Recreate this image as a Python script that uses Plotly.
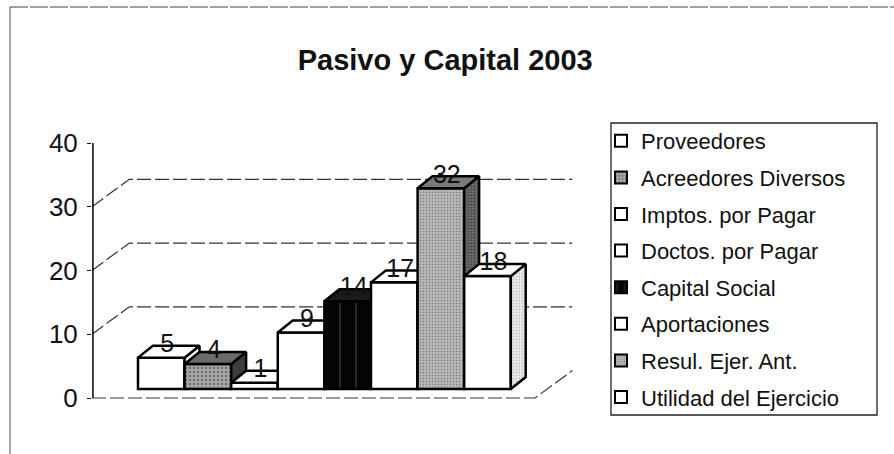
import plotly.graph_objects as go

# ---------------- data ----------------
categories = ["Proveedores", "Acreedores Diversos", "Imptos. por Pagar",
              "Doctos. por Pagar", "Capital Social", "Aportaciones",
              "Resul. Ejer. Ant.", "Utilidad del Ejercicio"]
values = [5, 4, 1, 9, 14, 17, 32, 18]
value_labels = ["5", "4", "1", "9", "14", "17", "32", "18"]
y_tick_values = [0, 10, 20, 30, 40]
y_tick_labels = ["0", "10", "20", "30", "40"]
grid_values = [10, 20, 30]
chart_title = "Pasivo y Capital 2003"

# ---------------- geometry / style ----------------
FONT = "Liberation Sans, Arial, sans-serif"
W, H = 894, 454
ML, MR, MT, MB = 92, 314, 110, 50
PX_X = 46.6          # pixels per bar slot
PX_Y = 6.375         # pixels per value unit
Y0_PX = 398          # pixel row of value 0 on the front axis
X0 = -1.487          # x of the value axis (plot left edge)
X_RANGE = [X0, X0 + (W - ML - MR) / PX_X]
Y_BOT = (Y0_PX - (H - MB)) / PX_Y
Y_RANGE = [Y_BOT, Y_BOT + (H - MT - MB) / PX_Y]

WDX, WDY = 0.80, 4.3       # wall depth offset
FLOOR_END = 8.02
BDX, BDY = 0.32, 1.88      # bar depth offset
BASE = 1.41
SCALE = 0.984

white = dict(front="white", pattern=None, top="white", side="white", sidepat=None)
styles = [
    white,
    dict(front="#8c8c8c",
         pattern=dict(shape=".", fgcolor="#3a3a3a", bgcolor="#a9a9a9", size=4, solidity=0.35),
         top="#6a6a6a", side="#3c3c3c", sidepat=None),
    white,
    white,
    dict(front="black",
         pattern=dict(shape="|", fgcolor="#777777", bgcolor="#050505", size=16, solidity=0.08),
         top="#1a1a1a", side="#2a2a2a", sidepat=None),
    white,
    dict(front="#a5a5a5",
         pattern=dict(shape=".", fgcolor="#505050", bgcolor="#bdbdbd", size=3, solidity=0.35),
         top="#7a7a7a", side="#4a4a4a",
         sidepat=dict(shape=".", fgcolor="#1e1e1e", bgcolor="#6a6a6a", size=3, solidity=0.35)),
    dict(front="white", pattern=None, top="white", side="#dcdcdc",
         sidepat=dict(shape=".", fgcolor="#9a9a9a", bgcolor="#ececec", size=3, solidity=0.3)),
]

fig = go.Figure()

# ---- back wall gridlines, wall diagonals, floor ----
gx, gy = [], []
for v in grid_values:
    gx += [X0, X0 + WDX, FLOOR_END + WDX, None]
    gy += [v, v + WDY, v + WDY, None]
gx += [X0, FLOOR_END, FLOOR_END + WDX, None]
gy += [0, 0, WDY, None]
fig.add_trace(go.Scatter(x=gx, y=gy, mode="lines", showlegend=False, hoverinfo="skip",
                         line=dict(color="#333333", width=1.2, dash="14px,4px")))
# value axis line (front)
fig.add_trace(go.Scatter(x=[X0 + 0.02, X0 + 0.02], y=[y_tick_values[0], y_tick_values[-1]],
                         mode="lines", showlegend=False, hoverinfo="skip",
                         line=dict(color="#111111", width=1.6)))

# ---- 3D bars, each in its own overlay subplot (painter's order left->right) ----
for i, (cat, v, st) in enumerate(zip(categories, values, styles)):
    k = i + 2
    xa, ya = f"x{k}", f"y{k}"
    top = BASE + v * SCALE
    marker = dict(color=st["front"], line=dict(color="#000000", width=2.5))
    if st["pattern"]:
        marker["pattern"] = st["pattern"]
    fig.add_trace(go.Bar(x=[i], y=[v * SCALE], base=[BASE], width=[1.0], name=cat,
                         legendgroup=cat, marker=marker, xaxis=xa, yaxis=ya,
                         hovertemplate=f"{cat}: {v}<extra></extra>"))
    sx = [i + 0.5, i + 0.5, i + 0.5 + BDX, i + 0.5 + BDX, i + 0.5]
    sy = [BASE, top, top + BDY, BASE + BDY, BASE]
    side_kw = dict(fill="toself", fillcolor=st["side"])
    if st["sidepat"]:
        side_kw["fillpattern"] = st["sidepat"]
    fig.add_trace(go.Scatter(x=sx, y=sy, mode="lines", showlegend=False, hoverinfo="skip",
                             legendgroup=cat, xaxis=xa, yaxis=ya,
                             line=dict(color="#000000", width=2.5), **side_kw))
    tx = [i - 0.5, i + 0.5, i + 0.5 + BDX, i - 0.5 + BDX, i - 0.5]
    ty = [top, top, top + BDY, top + BDY, top]
    fig.add_trace(go.Scatter(x=tx, y=ty, mode="lines", fill="toself", fillcolor=st["top"],
                             showlegend=False, hoverinfo="skip", legendgroup=cat,
                             xaxis=xa, yaxis=ya, line=dict(color="#000000", width=2.5)))

# ---- value labels on top ----
lab_x = [i + BDX * 0.4 for i in range(len(values))]
lab_y = [BASE + v * SCALE + BDY * 1.0 for v in values]
fig.add_trace(go.Scatter(x=lab_x, y=lab_y, mode="text", text=value_labels,
                         textposition="middle center", showlegend=False, hoverinfo="skip",
                         textfont=dict(family=FONT, size=25, color="#111111"),
                         xaxis="x10", yaxis="y10", cliponaxis=False))

layout_axes = {}
for k in range(2, 11):
    layout_axes[f"xaxis{k}"] = dict(overlaying="x", range=X_RANGE, visible=False, fixedrange=True)
    layout_axes[f"yaxis{k}"] = dict(overlaying="y", range=Y_RANGE, visible=False, fixedrange=True)


def px_to_paper_x(px):
    return (px - ML) / (W - ML - MR)


def px_to_paper_y(py):
    return (H - MB - py) / (H - MT - MB)


shapes = [
    dict(type="rect", xref="paper", yref="paper",
         x0=px_to_paper_x(611), x1=px_to_paper_x(877),
         y0=px_to_paper_y(415), y1=px_to_paper_y(123),
         line=dict(color="#222222", width=1.3), fillcolor="rgba(0,0,0,0)"),
    dict(type="line", xref="paper", yref="paper",
         x0=px_to_paper_x(10), x1=px_to_paper_x(900),
         y0=px_to_paper_y(7), y1=px_to_paper_y(7),
         line=dict(color="#444444", width=1.2, dash="18px,2px")),
    dict(type="line", xref="paper", yref="paper",
         x0=px_to_paper_x(10), x1=px_to_paper_x(10),
         y0=px_to_paper_y(7), y1=px_to_paper_y(460),
         line=dict(color="#555555", width=1)),
]

fig.update_layout(
    width=W, height=H, autosize=False,
    margin=dict(l=ML, r=MR, t=MT, b=MB, pad=0),
    paper_bgcolor="white", plot_bgcolor="white",
    barmode="overlay",
    font=dict(family=FONT, color="#111111"),
    title=dict(text=chart_title, x=0.498, xref="container",
               y=1 - 60 / H, yanchor="middle", xanchor="center",
               font=dict(family=FONT, size=29, color="#111111", weight="bold")),
    xaxis=dict(range=X_RANGE, visible=False, fixedrange=True),
    yaxis=dict(range=Y_RANGE, tickvals=y_tick_values, ticktext=y_tick_labels,
               showgrid=False, zeroline=False, showline=False,
               ticks="outside", ticklen=4, tickwidth=1, tickcolor="#111111",
               tickfont=dict(family=FONT, size=26, color="#111111"),
               ticklabelstandoff=4, fixedrange=True),
    showlegend=True,
    legend=dict(x=px_to_paper_x(601), xanchor="left",
                y=px_to_paper_y(120), yanchor="top",
                font=dict(family=FONT, size=22, color="#111111"),
                bgcolor="rgba(0,0,0,0)", borderwidth=0, maxheight=420,
                tracegroupgap=5, traceorder="grouped", itemsizing="constant"),
    shapes=shapes,
    **layout_axes,
)

fig.write_html("out.html", config={"displayModeBar": False},
               post_script="document.body.style.margin='0';")
